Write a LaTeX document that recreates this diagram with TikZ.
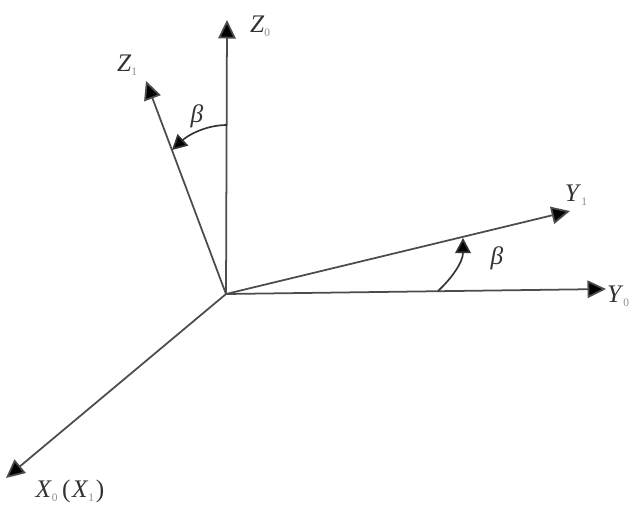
\documentclass[tikz,border=0pt]{standalone}
\usepackage{fontspec}
\setmainfont{Liberation Serif}
\usetikzlibrary{arrows.meta}
\newcommand{\axlab}[2]{\textit{#1}\raisebox{-2.5pt}{\fontsize{6.5}{6.5}\selectfont\textcolor{black!45}{#2}}}

\begin{document}
\begin{tikzpicture}[
  x=0.02cm, y=-0.02cm,
  axis/.style={-{Triangle[length=3.7mm, width=3.5mm, fill=black]}, line width=1pt, black!70},
  sweep/.style={-{Triangle[length=3mm, width=3.1mm, fill=black]}, line width=0.95pt, black!80},
  lbl/.style={font=\Large, inner sep=0pt, black!80}
]
\useasboundingbox (0,0) rectangle (644,507);
% ---------- axes ----------
\coordinate (origin) at (226,294);
\coordinate (z0) at (227,20);
\coordinate (z1) at (146,81);
\coordinate (y1) at (570,211);
\coordinate (y0) at (606,289);
\coordinate (x0) at (6,478);
\draw[axis] (origin) -- (z0);
\draw[axis] (origin) -- (z1);
\draw[axis] (origin) -- (y1);
\draw[axis] (origin) -- (y0);
\draw[axis] (origin) -- (x0);
% ---------- angle arcs ----------
\coordinate (zarcs) at (227,125);
\coordinate (zarce) at (172,150);
\coordinate (yarcs) at (438,291);
\coordinate (yarce) at (463,238);
\draw[sweep] (zarcs) .. controls (205,125) and (187,136) .. (zarce);
\draw[sweep] (yarcs) .. controls (452,278) and (463,262) .. (yarce);
% ---------- labels ----------
\node[lbl] (z0lab) at (260,26) {\axlab{Z}{0}};
\node[lbl] (z1lab) at (127,65) {\axlab{Z}{1}};
\node[lbl] (y1lab) at (576,195) {\axlab{Y}{1}};
\node[lbl] (y0lab) at (618,296) {\axlab{Y}{0}};
\node[lbl] (x0lab) at (70,491) {\axlab{X}{0}\kern2.5pt(\kern1pt\axlab{X}{1}\kern1pt)};
\node[lbl] (zbeta) at (197,116) {\textit{β}};
\node[lbl] (ybeta) at (497,258) {\textit{β}};
\end{tikzpicture}
\end{document}
